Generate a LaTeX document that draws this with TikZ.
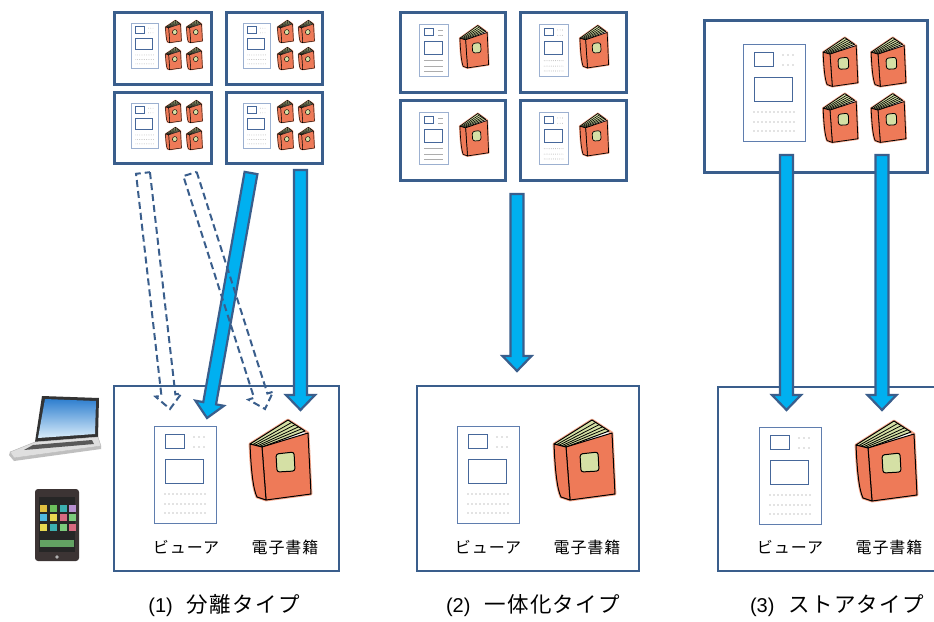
\documentclass[tikz,border=0pt]{standalone}
\usepackage{fontspec}
\setmainfont{Liberation Sans}
\newfontfamily\jp{Noto Sans CJK JP}
\newfontfamily\jpwide[LetterSpace=6]{Noto Sans CJK JP}
\usetikzlibrary{calc}

\definecolor{boxblue}{HTML}{3A5E8C}
\definecolor{arrowfill}{HTML}{00B0F0}
\definecolor{coral}{HTML}{EE7A58}
\definecolor{coralglow}{HTML}{F6A88C}
\definecolor{pagefill}{HTML}{D5E0A5}
\definecolor{framecol}{HTML}{5F7DAE}
\definecolor{framelight}{HTML}{9CB0D0}
\definecolor{rectcol}{HTML}{46679A}
\definecolor{dotcol}{HTML}{8A8A8A}
\definecolor{screenblue}{HTML}{2F7FCF}
\definecolor{screenlight}{HTML}{D8ECFA}
\definecolor{phonebody}{HTML}{3C3434}
\definecolor{ap1}{HTML}{E0C040}\definecolor{ap2}{HTML}{6CBF5C}
\definecolor{ap3}{HTML}{3CB0B0}\definecolor{ap4}{HTML}{B890D0}
\definecolor{ap5}{HTML}{50B8E0}\definecolor{ap6}{HTML}{E8D850}
\definecolor{ap7}{HTML}{D86A80}\definecolor{ap8}{HTML}{7CCB7C}

% line width used inside the book drawing
\def\bklw{1}
\tikzset{
  booklw/.code={\def\bklw{#1}},
  vframe/.style={draw=framecol, line width=0.9pt},
  vrect/.style={draw=rectcol, line width=1pt},
  % e-reader page: frame, picture boxes and rows of dots
  viewer/.pic={
    \draw[vframe] (0,0) rectangle (62,97);
    \draw[vrect] (11,8) rectangle (30,22);
    \draw[vrect] (11,33) rectangle (49,57);
    \foreach \yy in {11,21} \foreach \xx in {40,45,50}
      \fill[dotcol] (\xx,\yy) circle[radius=0.7];
    \foreach \yy in {68,78,87} \foreach \xx in {11,15,...,51}
      \fill[dotcol] (\xx,\yy) circle[radius=0.7];
  },
  % same page with ruled text lines
  viewerlines/.pic={
    \draw[vframe] (0,0) rectangle (62,97);
    \draw[vrect] (11,8) rectangle (30,22);
    \draw[vrect] (11,33) rectangle (49,57);
    \foreach \yy in {11,21} \draw[dotcol!70, line width=0.8pt] (40,\yy) -- (52,\yy);
    \foreach \yy in {68,78,87} \draw[dotcol!70, line width=0.8pt] (11,\yy) -- (51,\yy);
  },
  % coral hard-cover book with its pages showing at the top
  book/.pic={
    \begin{scope}[line join=round]
      \draw[coralglow, line width=2.8pt*\bklw]
        (2,25) -- (40,1) -- (57,12) -- (60,14) -- (63,75) -- (18,81) -- (9,78)
        .. controls (5,70) and (3,50) .. (2,25) -- cycle;
      \filldraw[fill=pagefill, draw=black, line width=1pt*\bklw]
        (2,25) -- (40,1) -- (57,12) -- (14,28) -- cycle;
      \foreach \t in {0.22,0.42,0.62,0.8}
        \draw[line width=0.8pt*\bklw] ($(2,25)!\t!(14,28)$) -- ($(40,1)!\t!(57,12)$);
      \filldraw[fill=coral, draw=black, line width=1pt*\bklw]
        (14,28) -- (60,14) -- (63,75) -- (18,81) -- cycle;
      \filldraw[fill=coral, draw=black, line width=1pt*\bklw]
        (2,25) .. controls (3,50) and (5,70) .. (9,78) -- (18,81) -- (14,28) -- cycle;
      \filldraw[fill=pagefill, draw=black, line width=1pt*\bklw, rounded corners=2.5]
        (28,35) -- (46,33) -- (47,52) -- (29,53) -- cycle;
    \end{scope}
  },
}

% block arrow from #2 to the tip #3
\def\baw{6.5pt}\def\bah{14.5pt}\def\bal{15pt}
\newcommand\blockarrow[3][]{%
  \coordinate (ba-h) at ($(#3)!\bal!(#2)$);
  \draw[#1] ($(#2)!\baw!90:(#3)$) -- ($(ba-h)!\baw!90:(#3)$)
    -- ($(ba-h)!\bah!90:(#3)$) -- (#3) -- ($(ba-h)!\bah!-90:(#3)$)
    -- ($(ba-h)!\baw!-90:(#3)$) -- ($(#2)!\baw!-90:(#3)$) -- cycle;}

\begin{document}
\begin{tikzpicture}[x=1pt,y=-1pt,
  topbox/.style={draw=boxblue, line width=3pt, fill=white, anchor=north west, inner sep=0pt},
  botbox/.style={draw=boxblue, line width=2pt, fill=white, anchor=north west, inner sep=0pt},
  solidarrow/.style={draw=boxblue, fill=arrowfill, line width=2.2pt, line join=miter},
  dasharrow/.style={draw=boxblue, line width=2pt, dash pattern=on 7pt off 4pt, line join=miter},
  lbl/.style={font=\jpwide\fontsize{16}{19}\selectfont, inner sep=0pt},
  captext/.style={font=\fontsize{20}{24}\selectfont, inner sep=0pt},
  capjp/.style={font=\jpwide\fontsize{21.5}{24}\selectfont},
]
\useasboundingbox (0,0) rectangle (934,621);
\fill[white] (0,0) rectangle (934,621);

% ---------- (1) separate type: source boxes ----------
\node[topbox, minimum width=97pt, minimum height=72pt] (a1) at (113,11) {};
\node[topbox, minimum width=96pt, minimum height=72pt] (a2) at (225,11) {};
\node[topbox, minimum width=97pt, minimum height=71pt] (a3) at (113,91) {};
\node[topbox, minimum width=96pt, minimum height=71pt] (a4) at (225,91) {};
\foreach \dx/\dy in {0/0,112/0,0/80,112/80}{
  \pic[xscale=0.44, yscale=0.47, vframe/.append style={draw=framelight}] at (131+\dx,23+\dy) {viewer};
  \foreach \bx/\by in {165/20,186/20,165/47,186/47}
    \pic[xscale=0.26, yscale=0.28, booklw=0.45] at (\bx+\dx,\by+\dy) {book};
}

% ---------- (2) integrated type: source boxes ----------
\node[topbox, minimum width=105pt, minimum height=80pt] (b1) at (399,11) {};
\node[topbox, minimum width=106pt, minimum height=80pt] (b2) at (519,11) {};
\node[topbox, minimum width=105pt, minimum height=80pt] (b3) at (399,99) {};
\node[topbox, minimum width=106pt, minimum height=80pt] (b4) at (519,99) {};
\foreach \dy in {0,88}{
  \pic[xscale=0.47, yscale=0.54, vframe/.append style={draw=framelight}] at (419,24+\dy) {viewerlines};
  \pic[xscale=0.47, yscale=0.54, vframe/.append style={draw=framelight}] at (539,24+\dy) {viewer};
  \pic[xscale=0.47, yscale=0.53, booklw=0.7] at (459,25+\dy) {book};
  \pic[xscale=0.47, yscale=0.53, booklw=0.7] at (579,25+\dy) {book};
}

% ---------- (3) store type: source box ----------
\node[topbox, minimum width=223pt, minimum height=152pt] (c0) at (703,19) {};
\pic at (743,44) {viewer};
\foreach \bx/\by in {822/37,870/37,822/93,870/93}
  \pic[xscale=0.57, yscale=0.61, booklw=0.8] at (\bx,\by) {book};

% ---------- devices ----------
\begin{scope}[line join=round]
  \fill[gray!40!black] (42,396) -- (99,398) -- (98,437) -- (35,442) -- cycle;
  \shade[top color=screenblue, bottom color=screenlight]
    (45,399) -- (96,401) -- (95,434) -- (38,438) -- cycle;
  \filldraw[fill=gray!25, draw=gray!60] (35,442) -- (98,437) -- (101,446) -- (14,458) -- (10,452) -- cycle;
  \fill[gray!70!black] (33,445) -- (92,440) -- (94,444) -- (24,450) -- cycle;
  \fill[gray!50] (10,452) -- (14,458) -- (101,446) -- (101,449) -- (14,461) -- (9,455) -- cycle;
\end{scope}
\fill[phonebody, rounded corners=3pt] (35,489) rectangle (79,561);
\fill[black!85] (39,497) rectangle (75,552);
\foreach \yy/\ca/\cb/\cc/\cd in {508/ap1/ap2/ap3/ap4, 517/ap5/ap6/ap7/ap8, 527/ap6/ap3/ap8/ap7}{
  \fill[\ca] (39.5,\yy-3.5) rectangle (46.5,\yy+3.5);
  \fill[\cb] (49.5,\yy-3.5) rectangle (56.5,\yy+3.5);
  \fill[\cc] (59.5,\yy-3.5) rectangle (66.5,\yy+3.5);
  \fill[\cd] (68.5,\yy-3.5) rectangle (75.5,\yy+3.5);
}
\fill[ap8!80!black] (40,540) rectangle (74,547);
\fill[gray!60] (57,557) circle[radius=1.8];

% ---------- result boxes ----------
\node[botbox, minimum width=225pt, minimum height=185pt] (p1) at (113,385) {};
\node[botbox, minimum width=222pt, minimum height=185pt] (p2) at (416,385) {};
\node[botbox, minimum width=232pt, minimum height=184pt] (p3) at (717,386) {};

\pic at (154,426) {viewer};
\pic at (248,419) {book};
\pic at (457,426) {viewer};
\pic at (552,419) {book};
\pic at (759,427) {viewer};
\pic at (854,420) {book};

\node[lbl] (v1) at (186,547) {ビューア};
\node[lbl] (e1) at (285,547) {電子書籍};
\node[lbl] (v2) at (488,547) {ビューア};
\node[lbl] (e2) at (587,547) {電子書籍};
\node[lbl] (v3) at (790,547) {ビューア};
\node[lbl] (e3) at (889,547) {電子書籍};

% ---------- arrows ----------
\coordinate (a4out) at (300.5,170); \coordinate (p1book) at (300.5,410);
\coordinate (a4diag) at (251,173);  \coordinate (p1view) at (207,418);
\coordinate (a3out) at (143,173);   \coordinate (p1vd) at (170,409);
\coordinate (a3diag) at (190,174);  \coordinate (p1bd) at (265,409);
\coordinate (b3out) at (517,194);   \coordinate (p2in) at (517,371);
\coordinate (c0v) at (786.5,155);   \coordinate (p3v) at (786.5,410);
\coordinate (c0b) at (882,155);     \coordinate (p3b) at (882,410);

\blockarrow[solidarrow]{a4out}{p1book}
\blockarrow[solidarrow]{a4diag}{p1view}
\blockarrow[solidarrow]{b3out}{p2in}
\blockarrow[solidarrow]{c0v}{p3v}
\blockarrow[solidarrow]{c0b}{p3b}
\def\bah{13pt}\def\bal{14pt}\def\baw{7pt}
\blockarrow[dasharrow]{a3out}{p1vd}
\blockarrow[dasharrow]{a3diag}{p1bd}

% ---------- captions ----------
\node[captext] (t1) at (224,606) {(1)\hspace{0.7em}{\jpwide\fontsize{21.5}{24}\selectfont 分離タイプ}};
\node[captext] (t2) at (533,606) {(2)\hspace{0.7em}{\jpwide\fontsize{21.5}{24}\selectfont 一体化タイプ}};
\node[captext] (t3) at (837,606) {(3)\hspace{0.7em}{\jpwide\fontsize{21.5}{24}\selectfont ストアタイプ}};
\end{tikzpicture}
\end{document}
